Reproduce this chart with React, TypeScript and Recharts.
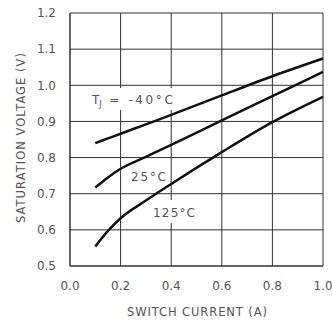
import { LineChart, Line, XAxis, YAxis, CartesianGrid, Customized } from 'recharts';

// switch current (A)
const current = [0.1, 0.15, 0.2, 0.3, 0.4, 0.6, 0.8, 1.0];
// saturation voltage (V) per junction temperature
const vsatMinus40 = [0.84, 0.853, 0.866, 0.892, 0.918, 0.972, 1.025, 1.074];
const vsat25 = [0.717, 0.745, 0.769, 0.802, 0.835, 0.903, 0.97, 1.037];
const vsat125 = [0.554, 0.597, 0.632, 0.681, 0.727, 0.815, 0.898, 0.968];

const xTicks = [0, 0.2, 0.4, 0.6, 0.8, 1.0];
const yTicks = [0.5, 0.6, 0.7, 0.8, 0.9, 1.0, 1.1, 1.2];

const data = current.map((c, i) => ({
  current: c,
  m40: vsatMinus40[i],
  t25: vsat25[i],
  t125: vsat125[i],
}));

const FONT = '"DejaVu Sans", sans-serif';
const INK = '#555';

// curve labels and axis titles (label boxes are white so they cut the grid)
function Annotations() {
  return (
    <g fontFamily={FONT} fontSize={12} fill={INK}>
      <rect x={88} y={88} width={88} height={22} fill="#fff" />
      <text x={92} y={104}>
        T<tspan fontSize={8.5} dy={3}>J</tspan>
        <tspan dy={-3} dx={1} textLength={70} lengthAdjust="spacing">
          {' = -40°C'}
        </tspan>
      </text>
      <rect x={129} y={168} width={39} height={16} fill="#fff" />
      <text x={131} y={181} textLength={35} lengthAdjust="spacing">25°C</text>
      <rect x={150} y={200} width={48} height={23} fill="#fff" />
      <text x={153} y={217} textLength={42} lengthAdjust="spacing">125°C</text>
      <text x={197} y={316} fontSize={11.5} textAnchor="middle" textLength={140} lengthAdjust="spacing">
        SWITCH CURRENT (A)
      </text>
      <text
        x={25}
        y={138}
        fontSize={11.5}
        textAnchor="middle"
        transform="rotate(-90 25 138)"
        textLength={170}
        lengthAdjust="spacing"
      >
        SATURATION VOLTAGE (V)
      </text>
    </g>
  );
}

export default function App() {
  return (
    <div style={{ position: 'absolute', left: 0, top: 0, background: '#fff' }}>
      <LineChart
        width={332}
        height={321}
        data={data}
        margin={{ top: 13, right: 9, left: 0, bottom: 0 }}
      >
        <CartesianGrid stroke="#333" strokeWidth={1} />
        <XAxis
          dataKey="current"
          type="number"
          domain={[0, 1]}
          ticks={xTicks}
          tickFormatter={(v: number) => v.toFixed(1)}
          tickLine={false}
          axisLine={{ stroke: '#333' }}
          tick={{ fontFamily: FONT, fontSize: 12, fill: INK }}
          tickMargin={9}
          height={55}
        />
        <YAxis
          type="number"
          domain={[0.5, 1.2]}
          ticks={yTicks}
          tickFormatter={(v: number) => v.toFixed(1)}
          tickLine={false}
          axisLine={{ stroke: '#333' }}
          tick={{ fontFamily: FONT, fontSize: 12, fill: INK }}
          tickMargin={8}
          width={70}
        />
        <Customized component={Annotations} />
        <Line type="monotone" dataKey="m40" stroke="#111" strokeWidth={2.5} dot={false} isAnimationActive={false} />
        <Line type="monotone" dataKey="t25" stroke="#111" strokeWidth={2.5} dot={false} isAnimationActive={false} />
        <Line type="monotone" dataKey="t125" stroke="#111" strokeWidth={2.5} dot={false} isAnimationActive={false} />
      </LineChart>
    </div>
  );
}
